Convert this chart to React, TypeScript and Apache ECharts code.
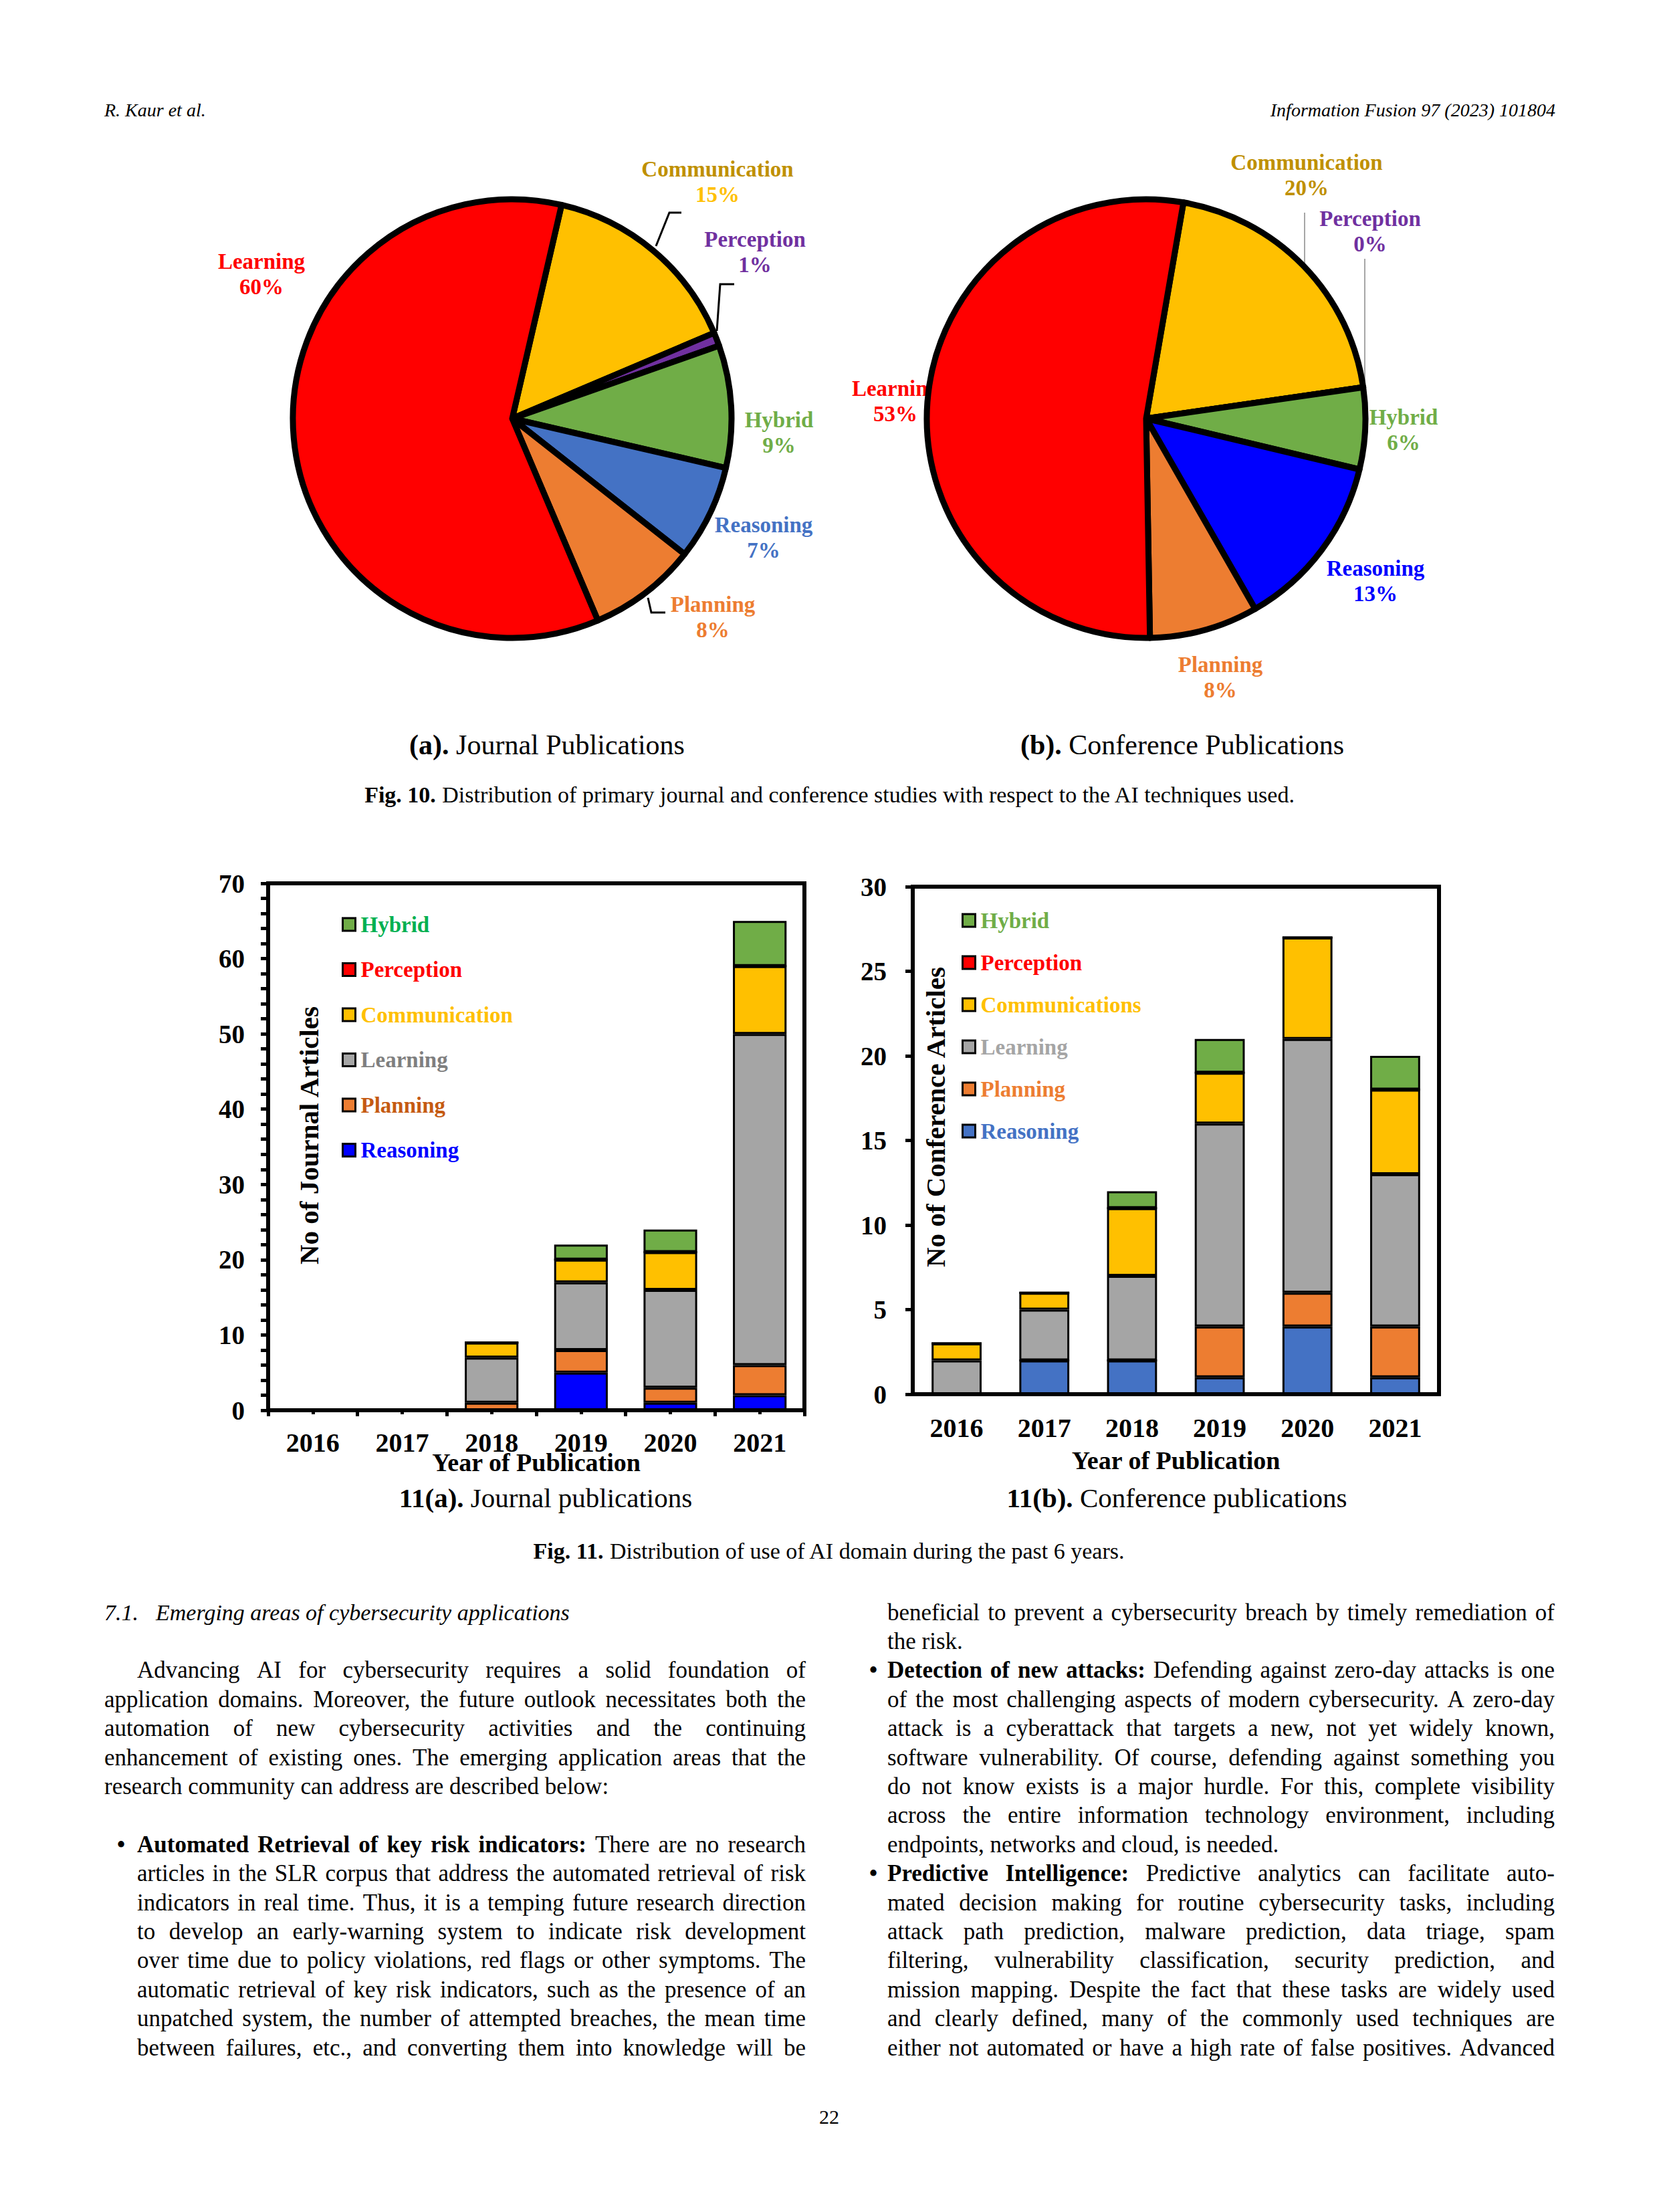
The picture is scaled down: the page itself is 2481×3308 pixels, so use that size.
import React, { useEffect, useRef } from 'react';
import * as echarts from 'echarts';

const PAGE_W = 2481;
const PAGE_H = 3308;
const SERIF = '"Liberation Serif", "Times New Roman", serif';

// ---------- Fig. 10 pie data ----------
const pieNames = ['Communication', 'Perception', 'Hybrid', 'Reasoning', 'Planning', 'Learning'];
const journalPieValues = [15, 1, 9, 7, 8, 60];
const conferencePieValues = [20, 0, 6, 13, 8, 53];
const journalPieColors = ['#FFC000', '#7030A0', '#70AD47', '#4472C4', '#ED7D31', '#FF0000'];
const conferencePieColors = ['#FFC000', '#7030A0', '#70AD47', '#0000FF', '#ED7D31', '#FF0000'];
const journalPieNameColors = ['#BF9000', '#7030A0', '#70AD47', '#4472C4', '#ED7D31', '#FF0000'];
const journalPiePctColors = ['#FFC000', '#7030A0', '#70AD47', '#4472C4', '#ED7D31', '#FF0000'];
const conferencePieTextColors = ['#BF9000', '#7030A0', '#70AD47', '#0000FF', '#ED7D31', '#FF0000'];

// label anchor points (page pixels)
const journalPieLabelPos = [[1073, 272], [1129, 377], [1165, 647], [1142, 804], [1066, 923], [391, 410]];
const conferencePieLabelPos = [[1954, 262], [2049, 346], [2099, 643], [2057, 869], [1825, 1013], [1339, 600]];
const journalPieGuides: any[] = [
  [[981, 368], [1001, 318], [1019, 318]],
  [[1072, 495], [1077, 425], [1098, 425]],
  null,
  null,
  [[969, 894], [974, 916], [995, 916]],
  null,
];
const conferencePieGuides: any[] = [
  [[1951, 395], [1951, 356], [1951, 318]],
  [[2041, 577], [2041, 482], [2041, 387]],
  null,
  null,
  null,
  null,
];

// ---------- Fig. 11 bar data ----------
const years = ['2016', '2017', '2018', '2019', '2020', '2021'];
const journalSeriesNames = ['Reasoning', 'Planning', 'Learning', 'Communication', 'Perception', 'Hybrid'];
const journalReasoning = [0, 0, 0, 5, 1, 2];
const journalPlanning = [0, 0, 1, 3, 2, 4];
const journalLearning = [0, 0, 6, 9, 13, 44];
const journalCommunication = [0, 0, 2, 3, 5, 9];
const journalPerception = [0, 0, 0, 0, 0, 0];
const journalHybrid = [0, 0, 0, 2, 3, 6];
const journalBarColors = ['#0000FF', '#ED7D31', '#A5A5A5', '#FFC000', '#FF0000', '#70AD47'];

const conferenceSeriesNames = ['Reasoning', 'Planning', 'Learning', 'Communications', 'Perception', 'Hybrid'];
const conferenceReasoning = [0, 2, 2, 1, 4, 1];
const conferencePlanning = [0, 0, 0, 3, 2, 3];
const conferenceLearning = [2, 3, 5, 12, 15, 9];
const conferenceCommunications = [1, 1, 4, 3, 6, 5];
const conferencePerception = [0, 0, 0, 0, 0, 0];
const conferenceHybrid = [0, 0, 1, 2, 0, 2];
const conferenceBarColors = ['#4472C4', '#ED7D31', '#A5A5A5', '#FFC000', '#FF0000', '#70AD47'];

const journalLegendOrder = ['Hybrid', 'Perception', 'Communication', 'Learning', 'Planning', 'Reasoning'];
const journalLegendTextColors = ['#00B050', '#FF0000', '#FFC000', '#7F7F7F', '#C55A11', '#0000FF'];
const journalLegendFill = ['#70AD47', '#FF0000', '#FFC000', '#A5A5A5', '#ED7D31', '#0000FF'];
const conferenceLegendOrder = ['Hybrid', 'Perception', 'Communications', 'Learning', 'Planning', 'Reasoning'];
const conferenceLegendTextColors = ['#70AD47', '#FF0000', '#FFC000', '#A5A5A5', '#ED7D31', '#4472C4'];
const conferenceLegendFill = ['#70AD47', '#FF0000', '#FFC000', '#A5A5A5', '#ED7D31', '#4472C4'];

const journalAxis = { min: 0, max: 70, interval: 10 };
const conferenceAxis = { min: 0, max: 30, interval: 5 };

// ---------- page text ----------
const headerLeft = 'R. Kaur et al.';
const headerRight = 'Information Fusion 97 (2023) 101804';
const pieCaptionA = ['(a).', 'Journal Publications'];
const pieCaptionB = ['(b).', 'Conference Publications'];
const fig10Caption = ['Fig. 10.', 'Distribution of primary journal and conference studies with respect to the AI techniques used.'];
const barCaptionA = ['11(a).', 'Journal publications'];
const barCaptionB = ['11(b).', 'Conference publications'];
const fig11Caption = ['Fig. 11.', 'Distribution of use of AI domain during the past 6 years.'];
const sectionHeading = ['7.1.', 'Emerging areas of cybersecurity applications'];
const introParagraph = [
  'Advancing AI for cybersecurity requires a solid foundation of',
  'application domains. Moreover, the future outlook necessitates both the',
  'automation of new cybersecurity activities and the continuing',
  'enhancement of existing ones. The emerging application areas that the',
  'research community can address are described below:',
];
const bullet1Lead = 'Automated Retrieval of key risk indicators:';
const bullet1Lines = [
  'There are no research',
  'articles in the SLR corpus that address the automated retrieval of risk',
  'indicators in real time. Thus, it is a temping future research direction',
  'to develop an early-warning system to indicate risk development',
  'over time due to policy violations, red flags or other symptoms. The',
  'automatic retrieval of key risk indicators, such as the presence of an',
  'unpatched system, the number of attempted breaches, the mean time',
  'between failures, etc., and converting them into knowledge will be',
  'beneficial to prevent a cybersecurity breach by timely remediation of',
  'the risk.',
];
const bullet2Lead = 'Detection of new attacks:';
const bullet2Lines = [
  'Defending against zero-day attacks is one',
  'of the most challenging aspects of modern cybersecurity. A zero-day',
  'attack is a cyberattack that targets a new, not yet widely known,',
  'software vulnerability. Of course, defending against something you',
  'do not know exists is a major hurdle. For this, complete visibility',
  'across the entire information technology environment, including',
  'endpoints, networks and cloud, is needed.',
];
const bullet3Lead = 'Predictive Intelligence:';
const bullet3Lines = [
  'Predictive analytics can facilitate auto-',
  'mated decision making for routine cybersecurity tasks, including',
  'attack path prediction, malware prediction, data triage, spam',
  'filtering, vulnerability classification, security prediction, and',
  'mission mapping. Despite the fact that these tasks are widely used',
  'and clearly defined, many of the commonly used techniques are',
  'either not automated or have a high rate of false positives. Advanced',
];
const pageNumber = '22';

// ---------- helpers ----------
function textEl(text: string, x: number, y: number, o: any = {}) {
  const align = o.align || 'left';
  return {
    type: 'text',
    x,
    y,
    silent: true,
    z: o.z ?? 5,
    style: {
      text,
      fontFamily: o.family || SERIF,
      fontSize: o.size || 30,
      fontWeight: o.weight || 'normal',
      fontStyle: o.fstyle || 'normal',
      fill: o.color || '#000',
      align,
      textAlign: align,
      verticalAlign: 'middle',
      textVerticalAlign: 'middle',
      rich: o.rich,
    },
  };
}

function captionEl(bold: string, rest: string, x: number, y: number, size: number) {
  const tok = (w: string) => ({ fontFamily: SERIF, fontSize: size, fontWeight: w, fill: '#000', color: '#000' });
  return textEl(`{b|${bold}} {r|${rest}}`, x, y, {
    size,
    align: 'center',
    rich: { b: tok('bold'), r: tok('normal') },
  });
}

function buildBody(): any[] {
  const canvas = document.createElement('canvas');
  const ctx = canvas.getContext('2d')!;
  const fontStr = (size: number, bold: boolean, italic = false) =>
    `${italic ? 'italic ' : ''}${bold ? 'bold ' : ''}${size}px "Liberation Serif"`;
  const measure = (t: string, size: number, bold: boolean) => {
    ctx.font = fontStr(size, bold);
    return ctx.measureText(t).width;
  };

  type Line = { words: { w: string; bold: boolean }[]; x0: number; x1: number; y: number; justify: boolean; bullet?: number };
  const lines: Line[] = [];
  const slotY = (s: number) => 2411 + s * 43.4;
  const toWords = (lead: string | null, t: string) => {
    const arr: { w: string; bold: boolean }[] = [];
    if (lead) lead.split(' ').forEach((w) => arr.push({ w, bold: true }));
    t.split(' ').filter(Boolean).forEach((w) => arr.push({ w, bold: false }));
    return arr;
  };
  const L0 = 156, L1 = 1205, LB = 205, LDot = 181;
  const R1 = 2325, RB = 1327, RDot = 1306;

  introParagraph.forEach((t, i) => {
    lines.push({ words: toWords(null, t), x0: i === 0 ? LB : L0, x1: L1, y: slotY(2 + i), justify: i < introParagraph.length - 1 });
  });
  bullet1Lines.forEach((t, i) => {
    const left = i < 8;
    const slot = left ? 8 + i : i - 8;
    lines.push({
      words: toWords(i === 0 ? bullet1Lead : null, t),
      x0: left ? LB : RB,
      x1: left ? L1 : R1,
      y: slotY(slot),
      justify: i < bullet1Lines.length - 1,
      bullet: i === 0 ? LDot : undefined,
    });
  });
  bullet2Lines.forEach((t, i) => {
    lines.push({
      words: toWords(i === 0 ? bullet2Lead : null, t),
      x0: RB, x1: R1, y: slotY(2 + i),
      justify: i < bullet2Lines.length - 1,
      bullet: i === 0 ? RDot : undefined,
    });
  });
  bullet3Lines.forEach((t, i) => {
    lines.push({
      words: toWords(i === 0 ? bullet3Lead : null, t),
      x0: RB, x1: R1, y: slotY(9 + i),
      justify: true,
      bullet: i === 0 ? RDot : undefined,
    });
  });

  // font size so that justified lines fit
  const base = 35;
  let ratio = 1;
  lines.forEach((ln) => {
    if (!ln.justify) return;
    const tot = ln.words.reduce((s, wd) => s + measure(wd.w, base, wd.bold), 0) + measure(' ', base, false) * 0.85 * (ln.words.length - 1);
    ratio = Math.min(ratio, (ln.x1 - ln.x0) / tot);
  });
  const fs = Math.floor(base * ratio * 10) / 10;
  const els: any[] = [];
  lines.forEach((ln) => {
    const widths = ln.words.map((wd) => measure(wd.w, fs, wd.bold));
    const total = widths.reduce((a, b) => a + b, 0);
    const sp = measure(' ', fs, false);
    const gap = ln.justify && ln.words.length > 1 ? (ln.x1 - ln.x0 - total) / (ln.words.length - 1) : sp;
    let x = ln.x0;
    ln.words.forEach((wd, i) => {
      els.push(textEl(wd.w, x, ln.y, { size: fs, weight: wd.bold ? 'bold' : 'normal' }));
      x += widths[i] + gap;
    });
    if (ln.bullet != null) els.push(textEl('•', ln.bullet, ln.y, { size: fs + 4, align: 'center' }));
  });
  // heading
  els.push(textEl(sectionHeading[0], L0, slotY(0), { size: 34, fstyle: 'italic' }));
  els.push(textEl(sectionHeading[1], 233, slotY(0), { size: 34, fstyle: 'italic' }));
  return els;
}

function pieSeries(cfg: any) {
  const richFor = (nameColor: string, pctColor: string) => ({
    n: { fontFamily: SERIF, fontWeight: 'bold', fontSize: 33, lineHeight: 38, color: nameColor },
    p: { fontFamily: SERIF, fontWeight: 'bold', fontSize: 33, lineHeight: 38, color: pctColor },
  });
  return {
    type: 'pie',
    z: cfg.z,
    center: cfg.center,
    radius: 328,
    startAngle: cfg.startAngle,
    clockwise: true,
    silent: true,
    avoidLabelOverlap: false,
    minAngle: 0,
    emphasis: { disabled: true },
    itemStyle: cfg.shape
      ? { borderColor: '#000', borderWidth: 9, borderJoin: 'round' }
      : { color: 'rgba(0,0,0,0)', borderWidth: 0 },
    label: cfg.labels
      ? { show: true, formatter: '{n|{b}}\n{p|{c}%}' }
      : { show: false },
    labelLine: { show: !!cfg.labels, length: 5, length2: 5 },
    labelLayout: cfg.labels
      ? (params: any) => {
          const i = params.dataIndex;
          const res: any = { x: cfg.labelPos[i][0], y: cfg.labelPos[i][1], align: 'center', verticalAlign: 'middle' };
          if (cfg.guides[i]) res.labelLinePoints = cfg.guides[i];
          return res;
        }
      : undefined,
    data: cfg.values.map((v: number, i: number) => {
      const item: any = { name: pieNames[i], value: v };
      if (cfg.shape) item.itemStyle = { color: cfg.colors[i] };
      if (cfg.labels) {
        item.label = { rich: richFor(cfg.nameColors[i], cfg.pctColors[i]) };
        item.labelLine = {
          show: !!cfg.guides[i],
          lineStyle: { color: cfg.guideColor, width: cfg.guideWidth },
        };
      }
      return item;
    }),
  };
}

function barSeries(names: string[], values: number[][], colors: string[], stack: string, xi: number, yi: number, width: string) {
  return names.map((n, i) => ({
    type: 'bar',
    name: n,
    stack,
    xAxisIndex: xi,
    yAxisIndex: yi,
    barWidth: width,
    silent: true,
    emphasis: { disabled: true },
    itemStyle: { color: colors[i], borderColor: '#000', borderWidth: 3 },
    data: values[i],
  }));
}

const axisFont = { fontFamily: SERIF, fontWeight: 'bold', color: '#000' };

function buildOption() {
  const graphic: any[] = [
    textEl(headerLeft, 156, 164, { size: 28, fstyle: 'italic' }),
    textEl(headerRight, 2326, 164, { size: 28, fstyle: 'italic', align: 'right' }),
    captionEl(pieCaptionA[0], pieCaptionA[1], 818, 1114, 42),
    captionEl(pieCaptionB[0], pieCaptionB[1], 1768, 1114, 42),
    captionEl(fig10Caption[0], fig10Caption[1], 1241, 1188, 34),
    captionEl(barCaptionA[0], barCaptionA[1], 816, 2240, 41),
    captionEl(barCaptionB[0], barCaptionB[1], 1760, 2240, 41),
    captionEl(fig11Caption[0], fig11Caption[1], 1240, 2319, 34),
    textEl(pageNumber, 1240, 3165, { size: 30, align: 'center' }),
    ...buildBody(),
  ];

  const yAxisCommon = (ax: any, name: string, margin: number, nameGap: number, pad: number, minor: boolean) => ({
    type: 'value',
    min: ax.min,
    max: ax.max,
    interval: ax.interval,
    axisLine: { show: true, lineStyle: { color: '#000', width: 6 } },
    axisTick: { show: true, length: 11, lineStyle: { color: '#000', width: 5 } },
    minorTick: { show: minor, splitNumber: 5, length: 11, lineStyle: { color: '#000', width: 5 } },
    splitLine: { show: false },
    minorSplitLine: { show: false },
    axisLabel: { ...axisFont, fontSize: 39, margin },
    name,
    nameLocation: 'middle',
    nameGap,
    nameRotate: 90,
    nameMoveOverlap: false,
    nameTextStyle: { ...axisFont, fontSize: 41, padding: [0, 0, 0, pad] },
  });

  const legendText = { fontFamily: SERIF, fontWeight: 'bold', fontSize: 33, padding: [0, 0, 0, 3] };

  return {
    animation: false,
    backgroundColor: '#fff',
    textStyle: { fontFamily: SERIF },
    grid: [
      { left: 401, top: 1321, width: 802, height: 788, show: true, borderColor: '#000', borderWidth: 6, containLabel: false },
      { left: 1365, top: 1326, width: 787, height: 759, show: true, borderColor: '#000', borderWidth: 6, containLabel: false },
    ],
    xAxis: [
      {
        gridIndex: 0, type: 'category', data: years, position: 'bottom',
        axisLine: { lineStyle: { color: '#000', width: 6 } },
        axisTick: { show: true, alignWithLabel: false, interval: 0, length: 9, lineStyle: { color: '#000', width: 5 } },
        axisLabel: { ...axisFont, fontSize: 40, margin: 28, interval: 0 },
        name: 'Year of Publication', nameLocation: 'middle', nameGap: 59, nameMoveOverlap: false,
        nameTextStyle: { ...axisFont, fontSize: 38 },
      },
      {
        gridIndex: 0, type: 'category', data: years, position: 'bottom',
        axisLine: { show: false },
        axisTick: { show: true, alignWithLabel: true, interval: 0, length: 6, lineStyle: { color: '#000', width: 5 } },
        axisLabel: { show: false },
      },
      {
        gridIndex: 1, type: 'category', data: years, position: 'bottom',
        axisLine: { lineStyle: { color: '#000', width: 6 } },
        axisTick: { show: false },
        axisLabel: { ...axisFont, fontSize: 40, margin: 30, interval: 0 },
        name: 'Year of Publication', nameLocation: 'middle', nameGap: 80, nameMoveOverlap: false,
        nameTextStyle: { ...axisFont, fontSize: 38 },
      },
    ],
    yAxis: [
      { gridIndex: 0, ...yAxisCommon(journalAxis, 'No of Journal Articles', 35, -81, 34, true) },
      { gridIndex: 1, ...yAxisCommon(conferenceAxis, 'No of Conference Articles', 39, -54, 70, false) },
    ],
    legend: [
      {
        orient: 'vertical', left: 511, top: 1366, padding: 0, itemGap: 34.5,
        itemWidth: 19, itemHeight: 19, icon: 'rect', selectedMode: false,
        textStyle: legendText,
        data: journalLegendOrder.map((n, i) => ({
          name: n,
          textStyle: { color: journalLegendTextColors[i] },
          itemStyle: { color: journalLegendFill[i], borderColor: '#000', borderWidth: 3 },
        })),
      },
      {
        orient: 'vertical', left: 1438, top: 1360, padding: 0, itemGap: 30,
        itemWidth: 19, itemHeight: 19, icon: 'rect', selectedMode: false,
        textStyle: legendText,
        data: conferenceLegendOrder.map((n, i) => ({
          name: n,
          textStyle: { color: conferenceLegendTextColors[i] },
          itemStyle: { color: conferenceLegendFill[i], borderColor: '#000', borderWidth: 3 },
        })),
      },
    ],
    series: [
      pieSeries({
        z: 2, center: [766, 626], startAngle: 77, values: journalPieValues, colors: journalPieColors,
        shape: true, labels: true, nameColors: journalPieNameColors, pctColors: journalPiePctColors,
        labelPos: journalPieLabelPos, guides: journalPieGuides, guideColor: '#000', guideWidth: 3,
      }),
      pieSeries({
        z: 1, center: [1714, 626], startAngle: 80.2, values: conferencePieValues, colors: conferencePieColors,
        shape: false, labels: true, nameColors: conferencePieTextColors, pctColors: conferencePieTextColors,
        labelPos: conferencePieLabelPos, guides: conferencePieGuides, guideColor: '#A6A6A6', guideWidth: 2,
      }),
      pieSeries({
        z: 3, center: [1714, 626], startAngle: 80.2, values: conferencePieValues, colors: conferencePieColors,
        shape: true, labels: false, guides: conferencePieGuides,
      }),
      ...barSeries(
        journalSeriesNames,
        [journalReasoning, journalPlanning, journalLearning, journalCommunication, journalPerception, journalHybrid],
        journalBarColors, 'journal', 0, 0, '60%'
      ),
      ...barSeries(
        conferenceSeriesNames,
        [conferenceReasoning, conferencePlanning, conferenceLearning, conferenceCommunications, conferencePerception, conferenceHybrid],
        conferenceBarColors, 'conference', 2, 1, '57%'
      ),
    ],
    graphic: { elements: graphic },
  };
}

export default function App() {
  const ref = useRef<HTMLDivElement>(null);
  useEffect(() => {
    document.body.style.margin = '0';
    const el = ref.current!;
    const chart = echarts.init(el, null, { renderer: 'svg', width: PAGE_W, height: PAGE_H });
    chart.setOption(buildOption() as any);
    return () => chart.dispose();
  }, []);
  return <div ref={ref} style={{ width: PAGE_W, height: PAGE_H, background: '#fff' }} />;
}
